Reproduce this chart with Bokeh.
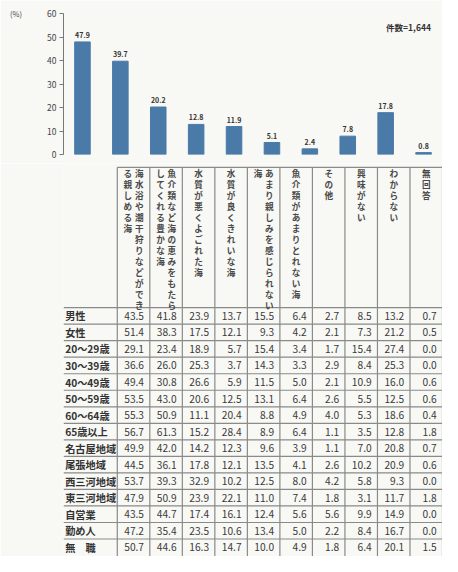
from bokeh.plotting import figure
from bokeh.models import FactorRange, Range1d, Label, ColumnDataSource, FixedTicker
from bokeh.layouts import column
from bokeh.embed import file_html
from bokeh.resources import INLINE
from bokeh.core.properties import value

# ---------------- data ----------------
categories = [
    "海水浴や潮干狩りなどができる親しめる海",
    "魚介類など海の恵みをもたらしてくれる豊かな海",
    "水質が悪くよごれた海",
    "水質が良くきれいな海",
    "あまり親しみを感じられない海",
    "魚介類があまりとれない海",
    "その他",
    "興味がない",
    "わからない",
    "無回答",
]
# vertical header lines, right line first
header_lines = [
    ["海水浴や潮干狩りなどができ", "る親しめる海"],
    ["魚介類など海の恵みをもたら", "してくれる豊かな海"],
    ["水質が悪くよごれた海"],
    ["水質が良くきれいな海"],
    ["あまり親しみを感じられない", "海"],
    ["魚介類があまりとれない海"],
    ["その他"],
    ["興味がない"],
    ["わからない"],
    ["無回答"],
]
totals = [47.9, 39.7, 20.2, 12.8, 11.9, 5.1, 2.4, 7.8, 17.8, 0.8]
n_label = "件数=1,644"
unit_label = "(%)"
y_ticks = [0, 10, 20, 30, 40, 50, 60]

row_labels = ["男性", "女性", "20～29歳", "30～39歳", "40～49歳", "50～59歳",
              "60～64歳", "65歳以上", "名古屋地域", "尾張地域", "西三河地域",
              "東三河地域", "自営業", "勤め人", "無　職"]
male = [43.5, 41.8, 23.9, 13.7, 15.5, 6.4, 2.7, 8.5, 13.2, 0.7]
female = [51.4, 38.3, 17.5, 12.1, 9.3, 4.2, 2.1, 7.3, 21.2, 0.5]
age20 = [29.1, 23.4, 18.9, 5.7, 15.4, 3.4, 1.7, 15.4, 27.4, 0.0]
age30 = [36.6, 26.0, 25.3, 3.7, 14.3, 3.3, 2.9, 8.4, 25.3, 0.0]
age40 = [49.4, 30.8, 26.6, 5.9, 11.5, 5.0, 2.1, 10.9, 16.0, 0.6]
age50 = [53.5, 43.0, 20.6, 12.5, 13.1, 6.4, 2.6, 5.5, 12.5, 0.6]
age60 = [55.3, 50.9, 11.1, 20.4, 8.8, 4.9, 4.0, 5.3, 18.6, 0.4]
age65 = [56.7, 61.3, 15.2, 28.4, 8.9, 6.4, 1.1, 3.5, 12.8, 1.8]
nagoya = [49.9, 42.0, 14.2, 12.3, 9.6, 3.9, 1.1, 7.0, 20.8, 0.7]
owari = [44.5, 36.1, 17.8, 12.1, 13.5, 4.1, 2.6, 10.2, 20.9, 0.6]
nishimikawa = [53.7, 39.3, 32.9, 10.2, 12.5, 8.0, 4.2, 5.8, 9.3, 0.0]
higashimikawa = [47.9, 50.9, 23.9, 22.1, 11.0, 7.4, 1.8, 3.1, 11.7, 1.8]
selfemp = [43.5, 44.7, 17.4, 16.1, 12.4, 5.6, 5.6, 9.9, 14.9, 0.0]
employee = [47.2, 35.4, 23.5, 10.6, 13.4, 5.0, 2.2, 8.4, 16.7, 0.0]
unemployed = [50.7, 44.6, 16.3, 14.7, 10.0, 4.9, 1.8, 6.4, 20.1, 1.5]
table_rows = [male, female, age20, age30, age40, age50, age60, age65, nagoya,
              owari, nishimikawa, higashimikawa, selfemp, employee, unemployed]

# ---------------- style / layout ----------------
FONT = "Noto Sans CJK JP"
BG = "#f8f8f5"
BAR = "#4a7aa8"
TXT = "#333333"
LINE = "#8a8a8a"
W, H = 442, 556
REF_W, REF_H = 458, 572
SPLIT = 168                      # reference y where table figure starts
TABLE_BOTTOM = 577               # reference y shown at the bottom of the table figure
H1 = round(SPLIT * H / REF_H)
H2 = H - H1
sy = H / REF_H
sx = W / REF_W

COL0, COLW = 65.0, 39.3          # table geometry in reference px
HEAD_TOP, HEAD_BOT, ROWH = 172.0, 318.0, 17.2

# ---------------- bar chart ----------------
p1 = figure(width=W, height=H1, x_range=FactorRange(factors=categories, range_padding=0),
            y_range=Range1d(0, 60), x_axis_location=None, y_axis_location="left",
            output_backend="svg", toolbar_location=None,
            min_border_left=round(COL0 * sx), min_border_right=0,
            min_border_top=round(13 * sy), min_border_bottom=H1 - round(158 * sy),
            background_fill_color=BG, border_fill_color=BG)
p1.outline_line_color = None
p1.grid.visible = False
ax = p1.yaxis[0]
ax.ticker = FixedTicker(ticks=y_ticks)
ax.axis_line_color = "#777777"
ax.major_tick_line_color = "#777777"
ax.minor_tick_line_color = None
ax.major_tick_out = 4
ax.major_tick_in = 0
ax.major_label_standoff = 3
ax.major_label_text_font = FONT
ax.major_label_text_font_size = "8.5px"
ax.major_label_text_color = "#444444"
ax.axis_label = unit_label
ax.axis_label_orientation = "horizontal"
ax.axis_label_align = "end"
ax.axis_label_standoff = 22
ax.axis_label_text_font = FONT
ax.axis_label_text_font_size = "7.5px"
ax.axis_label_text_font_style = "normal"
ax.axis_label_text_color = "#444444"

src1 = ColumnDataSource(dict(cat=categories, top=totals, lab=[f"{v:.1f}" for v in totals]))
p1.vbar(x="cat", top="top", width=0.41, source=src1, fill_color=BAR, line_color=BAR)
p1.text(x="cat", y="top", text="lab", source=src1, y_offset=-4,
        text_align="center", text_baseline="bottom", text_font=value(FONT),
        text_font_size="7px", text_font_style="bold", text_color=TXT)

p1.add_layout(Label(x=(446 - COL0) / COLW, y=(158 - 27) / (158 - 13) * 60, text=n_label,
                    text_align="right", text_baseline="middle", text_font=FONT,
                    text_font_size="8.5px", text_font_style="bold", text_color=TXT))

# ---------------- table ----------------
p2 = figure(width=W, height=H2, x_range=Range1d(0, REF_W), y_range=Range1d(TABLE_BOTTOM, SPLIT),
            x_axis_location=None, y_axis_location=None,
            output_backend="svg", toolbar_location=None,
            min_border=0, background_fill_color=BG, border_fill_color=BG)
p2.outline_line_color = None
p2.grid.visible = False

ncol = len(categories)
nrow = len(row_labels)
col_left = [COL0 + COLW * j for j in range(ncol + 1)]
row_top = [HEAD_BOT + ROWH * i for i in range(nrow + 1)]

# grid lines
x0s, y0s, x1s, y1s = [], [], [], []
x0s.append(COL0); x1s.append(REF_W); y0s.append(HEAD_TOP); y1s.append(HEAD_TOP)
for yy in row_top[:-1]:
    x0s.append(0); x1s.append(REF_W); y0s.append(yy); y1s.append(yy)
for xx in col_left:
    x0s.append(xx); x1s.append(xx); y0s.append(HEAD_TOP); y1s.append(TABLE_BOTTOM + 10)
p2.segment(x0=x0s, y0=y0s, x1=x1s, y1=y1s, line_color=LINE, line_width=1.2)

# vertical header text
hx, hy, ht = [], [], []
for j, lines in enumerate(header_lines):
    cx = COL0 + COLW * (j + 0.5)
    m = len(lines)
    for li, line in enumerate(lines):
        off = 0 if m == 1 else (6.8 if li == 0 else -6.8)
        for k, ch in enumerate(line):
            hx.append(cx + off)
            hy.append(177.5 + 11.45 * k)
            ht.append(ch)
p2.text(x=hx, y=hy, text=ht, text_align="center", text_baseline="middle",
        text_font=value(FONT), text_font_size="8.6px", text_font_style="bold",
        text_color="#4a4a4a")

# row labels
rl_y = [row_top[i] + ROWH / 2 for i in range(nrow)]
p2.text(x=[2] * nrow, y=rl_y, text=row_labels, text_align="left", text_baseline="middle",
        text_font=value(FONT), text_font_size="10.2px", text_font_style="bold",
        text_color=TXT)

# values
vx, vy, vt = [], [], []
for i, row in enumerate(table_rows):
    for j, v in enumerate(row):
        vx.append(col_left[j + 1] - 7)
        vy.append(row_top[i] + ROWH / 2)
        vt.append(f"{v:.1f}")
p2.text(x=vx, y=vy, text=vt, text_align="right", text_baseline="middle",
        text_font=value(FONT), text_font_size="10.2px", text_color="#3a3a3a")

layout = column(p1, p2, spacing=0)
open("out.html", "w").write(file_html(layout, INLINE))
